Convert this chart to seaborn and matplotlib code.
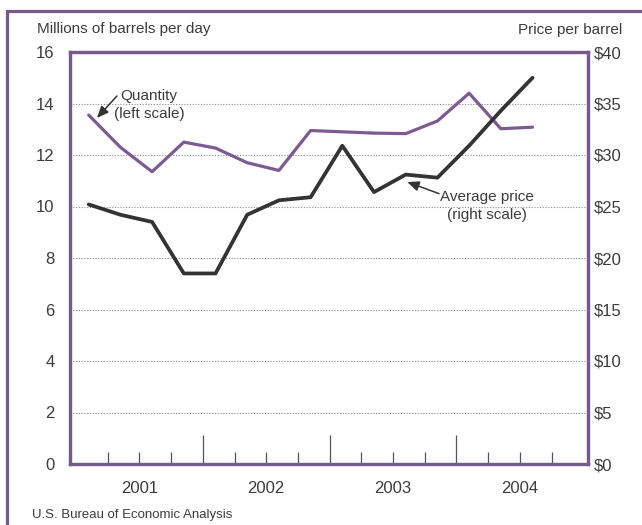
import numpy as np
import pandas as pd
import matplotlib
matplotlib.use("Agg")
import matplotlib.pyplot as plt
from matplotlib.patches import Rectangle
import seaborn as sns

# Datos trimestrales 2001T1 - 2004T3
trimestres = ["2001T1", "2001T2", "2001T3", "2001T4",
              "2002T1", "2002T2", "2002T3", "2002T4",
              "2003T1", "2003T2", "2003T3", "2003T4",
              "2004T1", "2004T2", "2004T3"]
cantidad = [13.55, 12.3, 11.35, 12.5, 12.27, 11.7, 11.4, 12.95,
            12.9, 12.85, 12.83, 13.32, 14.4, 13.02, 13.08]   # millones de barriles/dia
precio = [25.2, 24.2, 23.5, 18.5, 18.5, 24.2, 25.6, 25.9,
          30.9, 26.4, 28.1, 27.8, 30.9, 34.3, 37.5]        # dolares por barril
anios = ["2001", "2002", "2003", "2004"]

MORADO = "#775a8c"
LINEA_MORADA = "#7c5b92"
NEGRO = "#333333"
TEXTO = "#3c3c3c"

sns.set_style("white")
plt.rcParams["font.family"] = ["Liberation Sans", "DejaVu Sans"]

df = pd.DataFrame({"trimestre": trimestres, "cantidad": cantidad, "precio": precio})
df["x"] = np.arange(len(df)) + 0.4  # punto dentro del trimestre

W, H = 642, 525
fig = plt.figure(figsize=(W / 100, H / 100), dpi=100)
ax = fig.add_axes([70 / W, (H - 464) / H, (588 - 70) / W, (464 - 52) / H])
ax2 = ax.twinx()

sns.lineplot(data=df, x="x", y="cantidad", ax=ax, color=LINEA_MORADA, lw=2.3)
sns.lineplot(data=df, x="x", y="precio", ax=ax2, color=NEGRO, lw=2.7)

ax.set_xlim(-0.19, 16.15)
ax.set_ylim(0, 16)
ax2.set_ylim(0, 40)

# Ejes Y
ax.set_yticks(range(0, 17, 2))
ax.tick_params(axis="y", length=0, pad=11, labelsize=12, labelcolor=TEXTO)
ax2.set_yticks(range(0, 41, 5))
ax2.set_yticklabels([f"${v}" for v in range(0, 41, 5)])
ax2.tick_params(axis="y", length=0, pad=4, labelsize=12, labelcolor=TEXTO)
for a in (ax, ax2):
    a.set_ylabel("")
    a.set_xlabel("")

# Rejilla punteada
ax.yaxis.grid(True, linestyle=(0, (1, 1.5)), color="#8a8a8a", lw=0.8)
ax.xaxis.grid(False)

# Eje X: marcas cortas de trimestre
ax.set_xticks([q for q in range(1, 16) if q % 4 != 0])
ax.set_xticklabels([])
ax.tick_params(axis="x", bottom=True, direction="in", length=9, width=0.9, color="#555555")

# marcas largas entre anios
sec = ax.secondary_xaxis("bottom")
sec.set_xticks([4, 8, 12])
sec.set_xticklabels([])
sec.tick_params(direction="in", length=21, width=0.9, color="#555555")
sec.spines["bottom"].set_visible(False)

# etiquetas de anio centradas
sec_lab = ax.secondary_xaxis("bottom")
sec_lab.set_xticks([2, 6, 10, 14])
sec_lab.set_xticklabels(anios)
sec_lab.tick_params(length=0, pad=12, labelsize=12, labelcolor=TEXTO)
sec_lab.spines["bottom"].set_visible(False)

for a in (ax, ax2):
    for s in a.spines.values():
        s.set_color(MORADO)
        s.set_linewidth(2.3)

# Anotaciones
flecha = dict(arrowstyle="-|>,head_length=0.7,head_width=0.3", color=NEGRO, lw=1.1,
              shrinkA=0, shrinkB=0)
ax.annotate("", xy=(0.66, 13.44), xytext=(1.29, 14.29), arrowprops=flecha)
ax.text(2.30, 13.94, "Quantity\n(left scale)", ha="center", va="center",
        fontsize=11, color=TEXTO, linespacing=1.35)
ax.annotate("", xy=(10.45, 10.95), xytext=(11.45, 10.50), arrowprops=flecha)
ax.text(12.97, 10.03, "Average price\n(right scale)", ha="center", va="center",
        fontsize=11, color=TEXTO, linespacing=1.35)

# Titulos de eje y fuente
fig.text(37 / W, 1 - 29 / H, "Millions of barrels per day", ha="left", va="center",
         fontsize=11, color=TEXTO)
fig.text(622 / W, 1 - 30 / H, "Price per barrel", ha="right", va="center",
         fontsize=11, color=TEXTO)
fig.text(32 / W, 1 - 515 / H, "U.S. Bureau of Economic Analysis", ha="left", va="center",
         fontsize=9.5, color=TEXTO)

# Marco exterior
fig.add_artist(Rectangle((7 / W, -0.2), 1.2, 1.2 - 11 / H, transform=fig.transFigure,
                         fill=False, edgecolor=MORADO, lw=2.3))

plt.savefig("out.png", dpi=100)
